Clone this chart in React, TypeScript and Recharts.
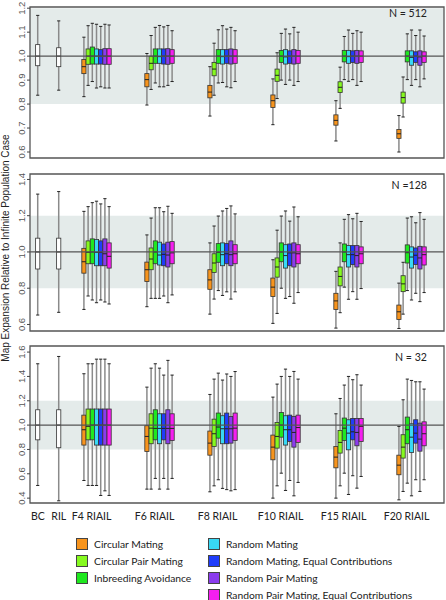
import React from "react";
import { Bar, ComposedChart, ReferenceArea, ReferenceLine, XAxis, YAxis } from "recharts";

// box stats are [min, q1, median, q3, max]
const groups = ["F4 RIAIL", "F6 RIAIL", "F8 RIAIL", "F10 RIAIL", "F15 RIAIL", "F20 RIAIL"];
const controlLabels = ["BC", "RIL"];
const seriesNames = [
  "Circular Mating",
  "Circular Pair Mating",
  "Inbreeding Avoidance",
  "Random Mating",
  "Random Mating, Equal Contributions",
  "Random Pair Mating",
  "Random Pair Mating, Equal Contributions",
];
const seriesColors = ["#f7941d", "#86f91f", "#1fe81f", "#38d9f5", "#1f3dfa", "#8b3ced", "#f51ff0"];

// N = 512
const controls512 = [[0.837, 0.96, 1.0, 1.048, 1.17], [0.858, 0.956, 1.0, 1.035, 1.147]];
const circular512 = [[0.831, 0.927, 0.956, 0.986, 1.079], [0.796, 0.872, 0.902, 0.927, 1.011], [0.75, 0.826, 0.85, 0.878, 0.956], [0.714, 0.786, 0.814, 0.838, 0.905], [0.646, 0.712, 0.732, 0.755, 0.814], [0.6, 0.657, 0.676, 0.694, 0.752]];
const circularPair512 = [[0.878, 0.966, 1.0, 1.03, 1.127], [0.861, 0.943, 0.97, 1.0, 1.086], [0.837, 0.918, 0.946, 0.974, 1.054], [0.823, 0.895, 0.92, 0.946, 1.014], [0.782, 0.848, 0.87, 0.893, 0.954], [0.746, 0.804, 0.827, 0.85, 0.913]];
const inbreeding512 = [[0.894, 0.967, 1.0, 1.038, 1.137], [0.888, 0.97, 1.0, 1.03, 1.12], [0.888, 0.97, 1.0, 1.027, 1.11], [0.9, 0.974, 1.0, 1.024, 1.095], [0.902, 0.976, 1.0, 1.024, 1.082], [0.902, 0.976, 1.0, 1.022, 1.093]];
const random512 = [[0.867, 0.967, 1.0, 1.03, 1.133], [0.872, 0.97, 0.998, 1.03, 1.128], [0.89, 0.967, 0.998, 1.027, 1.127], [0.882, 0.967, 0.997, 1.027, 1.113], [0.895, 0.97, 0.998, 1.024, 1.109], [0.878, 0.962, 0.995, 1.022, 1.109]];
const randomEq512 = [[0.872, 0.967, 1.0, 1.027, 1.124], [0.872, 0.967, 1.0, 1.03, 1.122], [0.872, 0.97, 1.0, 1.027, 1.113], [0.9, 0.97, 1.0, 1.022, 1.093], [0.902, 0.974, 1.0, 1.022, 1.095], [0.902, 0.974, 1.0, 1.018, 1.086]];
const randomPair512 = [[0.867, 0.966, 1.0, 1.031, 1.133], [0.878, 0.966, 1.0, 1.031, 1.128], [0.868, 0.967, 1.0, 1.03, 1.12], [0.878, 0.967, 1.0, 1.027, 1.12], [0.878, 0.97, 1.0, 1.024, 1.106], [0.872, 0.962, 0.997, 1.022, 1.109]];
const randomPairEq512 = [[0.867, 0.966, 1.0, 1.031, 1.13], [0.894, 0.97, 1.0, 1.027, 1.106], [0.894, 0.97, 1.0, 1.027, 1.106], [0.894, 0.97, 1.0, 1.024, 1.1], [0.894, 0.974, 1.0, 1.022, 1.1], [0.905, 0.974, 1.0, 1.018, 1.084]];

// N = 128
const controls128 = [[0.652, 0.906, 1.0, 1.076, 1.319], [0.667, 0.906, 1.0, 1.076, 1.333]];
const circular128 = [[0.683, 0.883, 0.946, 1.02, 1.224], [0.698, 0.837, 0.902, 0.944, 1.094], [0.657, 0.794, 0.846, 0.902, 1.05], [0.606, 0.754, 0.806, 0.856, 0.957], [0.58, 0.683, 0.73, 0.772, 0.893], [0.578, 0.628, 0.67, 0.707, 0.828]];
const circularPair128 = [[0.757, 0.935, 0.998, 1.061, 1.25], [0.744, 0.902, 0.961, 1.022, 1.187], [0.74, 0.887, 0.939, 0.99, 1.143], [0.661, 0.861, 0.917, 0.967, 1.12], [0.665, 0.813, 0.865, 0.917, 1.05], [0.657, 0.781, 0.824, 0.869, 0.943]];
const inbreeding128 = [[0.735, 0.935, 1.0, 1.072, 1.272], [0.744, 0.935, 1.0, 1.061, 1.244], [0.787, 0.943, 0.998, 1.046, 1.198], [0.8, 0.946, 1.0, 1.05, 1.198], [0.806, 0.946, 1.0, 1.044, 1.18], [0.787, 0.939, 0.996, 1.039, 1.187]];
const random128 = [[0.72, 0.924, 0.998, 1.069, 1.28], [0.744, 0.928, 0.983, 1.054, 1.244], [0.76, 0.924, 0.985, 1.05, 1.226], [0.744, 0.911, 0.98, 1.04, 1.226], [0.739, 0.917, 0.985, 1.035, 1.206], [0.735, 0.911, 0.972, 1.028, 1.194]];
const randomEq128 = [[0.735, 0.924, 0.998, 1.061, 1.265], [0.757, 0.924, 0.987, 1.044, 1.222], [0.78, 0.935, 0.99, 1.046, 1.24], [0.754, 0.924, 0.995, 1.044, 1.17], [0.781, 0.93, 0.985, 1.035, 1.183], [0.772, 0.931, 0.982, 1.022, 1.161]];
const randomPair128 = [[0.724, 0.924, 0.99, 1.072, 1.294], [0.72, 0.917, 0.983, 1.054, 1.252], [0.74, 0.924, 0.985, 1.061, 1.254], [0.717, 0.917, 0.995, 1.05, 1.248], [0.739, 0.917, 0.98, 1.035, 1.213], [0.726, 0.906, 0.967, 1.031, 1.217]];
const randomPairEq128 = [[0.713, 0.911, 0.976, 1.05, 1.25], [0.763, 0.935, 0.995, 1.057, 1.213], [0.78, 0.935, 0.99, 1.04, 1.21], [0.776, 0.935, 0.99, 1.04, 1.194], [0.798, 0.935, 0.99, 1.028, 1.168], [0.776, 0.928, 0.985, 1.028, 1.18]];

// N = 32
const controls32 = [[0.504, 0.879, 1.0, 1.126, 1.504], [0.378, 0.814, 1.0, 1.126, 1.564]];
const circular32 = [[0.545, 0.836, 0.962, 1.082, 1.422], [0.474, 0.784, 0.907, 0.995, 1.312], [0.452, 0.753, 0.852, 0.951, 1.252], [0.4, 0.715, 0.819, 0.918, 1.23], [0.4, 0.649, 0.737, 0.825, 1.093], [0.386, 0.592, 0.671, 0.753, 0.989]];
const circularPair32 = [[0.504, 0.879, 0.99, 1.132, 1.504], [0.474, 0.847, 0.975, 1.093, 1.468], [0.501, 0.825, 0.929, 1.049, 1.378], [0.501, 0.811, 0.907, 1.022, 1.337], [0.501, 0.77, 0.858, 0.956, 1.219], [0.455, 0.729, 0.819, 0.921, 1.208]];
const inbreeding32 = [[0.504, 0.879, 1.0, 1.132, 1.504], [0.562, 0.879, 0.973, 1.126, 1.504], [0.551, 0.893, 0.984, 1.099, 1.427], [0.605, 0.901, 1.0, 1.104, 1.4], [0.605, 0.874, 0.975, 1.058, 1.329], [0.523, 0.847, 0.962, 1.066, 1.378]];
const random32 = [[0.504, 0.836, 1.0, 1.132, 1.542], [0.474, 0.847, 0.973, 1.093, 1.468], [0.48, 0.847, 0.97, 1.077, 1.37], [0.463, 0.836, 0.962, 1.077, 1.46], [0.43, 0.797, 0.934, 1.044, 1.4], [0.419, 0.775, 0.901, 1.011, 1.367]];
const randomEq32 = [[0.422, 0.836, 1.0, 1.132, 1.542], [0.562, 0.879, 0.973, 1.093, 1.411], [0.47, 0.847, 0.97, 1.099, 1.42], [0.545, 0.866, 0.962, 1.082, 1.4], [0.584, 0.879, 0.945, 1.055, 1.373], [0.551, 0.852, 0.934, 1.044, 1.356]];
const randomPair32 = [[0.46, 0.836, 1.0, 1.132, 1.542], [0.474, 0.847, 0.973, 1.126, 1.532], [0.46, 0.852, 0.97, 1.071, 1.4], [0.419, 0.819, 0.94, 1.071, 1.441], [0.482, 0.83, 0.94, 1.055, 1.414], [0.455, 0.786, 0.885, 1.016, 1.356]];
const randomPairEq32 = [[0.422, 0.836, 1.0, 1.132, 1.504], [0.562, 0.874, 0.973, 1.093, 1.411], [0.47, 0.874, 0.975, 1.099, 1.44], [0.529, 0.858, 0.98, 1.082, 1.378], [0.578, 0.866, 0.99, 1.055, 1.329], [0.551, 0.83, 0.929, 1.027, 1.296]];

const yTicks512 = [0.6, 0.7, 0.8, 0.9, 1.0, 1.1, 1.2];
const yTicks128 = [0.6, 0.8, 1.0, 1.2, 1.4];
const yTicks32 = [0.4, 0.6, 0.8, 1.0, 1.2, 1.4, 1.6];

// slot layout along x (one slot per box)
const CONTROL_POS = [3, 8];
const FIRST_GROUP = 14;
const GROUP_STEP = 15;
const LABEL_SHIFT = 1.8;
const X_DOMAIN: [number, number] = [1.14, 99.71];

const tickPositions = [...CONTROL_POS, ...groups.map((_, i) => FIRST_GROUP + i * GROUP_STEP + LABEL_SHIFT)];
const tickLabels = [...controlLabels, ...groups];

const FONT = "Lato, 'Open Sans', sans-serif";
const AXIS_FONT = "'Liberation Sans', Arial, sans-serif";

function buildRows(controls: number[][], series: number[][][]) {
  const rows: any[] = [];
  controls.forEach((s, i) => rows.push({ pos: CONTROL_POS[i], range: [s[0], s[4]], stats: s, fill: "#ffffff" }));
  series.forEach((values, si) =>
    values.forEach((s, gi) =>
      rows.push({ pos: FIRST_GROUP + gi * GROUP_STEP + si, range: [s[0], s[4]], stats: s, fill: seriesColors[si] })
    )
  );
  return rows;
}

function BoxShape(props: any) {
  const { x, y, width, height, payload } = props;
  if (!payload || height == null || isNaN(y)) return null;
  const [lo, q1, med, q3, hi] = payload.stats;
  const top = Math.min(y, y + height);
  const h = Math.abs(height);
  const py = (v: number) => top + ((hi - v) / (hi - lo)) * h;
  const cx = x + width / 2;
  const half = 2.1;
  return (
    <g>
      <line x1={cx} x2={cx} y1={top} y2={top + h} stroke="#8a8a8a" strokeWidth={1.5} />
      <line x1={cx - 1.6} x2={cx + 1.6} y1={top} y2={top} stroke="#222" strokeWidth={1} />
      <line x1={cx - 1.6} x2={cx + 1.6} y1={top + h} y2={top + h} stroke="#222" strokeWidth={1} />
      <rect x={cx - half} y={py(q3)} width={half * 2} height={py(q1) - py(q3)} fill={payload.fill} stroke="#333" strokeWidth={0.8} />
      <line x1={cx - half} x2={cx + half} y1={py(med)} y2={py(med)} stroke="#222" strokeWidth={1} />
    </g>
  );
}

function YTick(props: any) {
  const { x, y, payload } = props;
  return (
    <text x={x} y={y} transform={`rotate(-90 ${x} ${y})`} textAnchor="middle" fontSize={9.5} fill="#555" fontFamily={AXIS_FONT}>
      {Number(payload.value).toFixed(1)}
    </text>
  );
}

function XTick(props: any) {
  const { x, y, index } = props;
  return (
    <text x={x} y={y + 17} textAnchor="middle" fontSize={10.5} fill="#222" fontFamily={FONT}>
      {tickLabels[index]}
    </text>
  );
}

const panels = [
  { key: "512", rows: buildRows(controls512, [circular512, circularPair512, inbreeding512, random512, randomEq512, randomPair512, randomPairEq512]), domain: [0.575, 1.205], ticks: yTicks512, top: 0, height: 165, margin: { top: 7, right: 2, bottom: 7, left: 0 }, showX: false },
  { key: "128", rows: buildRows(controls128, [circular128, circularPair128, inbreeding128, random128, randomEq128, randomPair128, randomPairEq128]), domain: [0.564, 1.43], ticks: yTicks128, top: 165, height: 170, margin: { top: 9, right: 2, bottom: 4, left: 0 }, showX: false },
  { key: "32", rows: buildRows(controls32, [circular32, circularPair32, inbreeding32, random32, randomEq32, randomPair32, randomPairEq32]), domain: [0.36, 1.65], ticks: yTicks32, top: 335, height: 195, margin: { top: 11, right: 2, bottom: 0, left: 0 }, showX: true },
];

const nLabels = [
  { text: "N = 512", top: 7 },
  { text: "N =128", top: 179 },
  { text: "N = 32", top: 351 },
];

function Panel({ p }: { p: any }) {
  return (
    <div style={{ position: "absolute", left: 0, top: p.top }}>
      <ComposedChart width={446} height={p.height} data={p.rows} margin={p.margin}>
        <XAxis
          type="number"
          dataKey="pos"
          domain={X_DOMAIN}
          allowDataOverflow
          ticks={tickPositions}
          interval={0}
          hide={!p.showX}
          height={27}
          axisLine={false}
          tickLine={false}
          tickSize={0}
          tickMargin={0}
          tick={<XTick />}
        />
        <YAxis
          type="number"
          domain={p.domain}
          allowDataOverflow
          ticks={p.ticks}
          interval={0}
          width={30}
          axisLine={false}
          tickSize={3}
          tickMargin={2}
          tickLine={{ stroke: "#444" }}
          tick={<YTick />}
        />
        <ReferenceArea x1={X_DOMAIN[0]} x2={X_DOMAIN[1]} y1={0.8} y2={1.2} fill="#e4ebea" fillOpacity={1} stroke="none" ifOverflow="hidden" />
        <ReferenceLine y={1} stroke="#555" strokeWidth={1.3} />
        <Bar dataKey="range" barSize={4} shape={<BoxShape />} isAnimationActive={false} />
        <ReferenceArea x1={X_DOMAIN[0]} x2={X_DOMAIN[1]} y1={p.domain[0]} y2={p.domain[1]} fill="none" stroke="#555" strokeWidth={1.3} />
      </ComposedChart>
    </div>
  );
}

export default function App() {
  const leftLegend = seriesNames.slice(0, 3);
  const rightLegend = seriesNames.slice(3);
  const legendItem = (name: string, color: string, left: number, top: number) => (
    <div key={name} style={{ position: "absolute", left, top, display: "flex", alignItems: "center", height: 14 }}>
      <div style={{ width: 12, height: 12, background: color, border: "1px solid #444", boxSizing: "border-box" }} />
      <span style={{ marginLeft: 6, fontFamily: FONT, fontSize: 10.3, color: "#222", whiteSpace: "nowrap" }}>{name}</span>
    </div>
  );
  return (
    <div style={{ position: "absolute", left: 0, top: 0, width: 446, height: 600, background: "#fff" }}>
      {panels.map((p) => (
        <Panel key={p.key} p={p} />
      ))}
      {nLabels.map((n) => (
        <div key={n.text} style={{ position: "absolute", right: 19, top: n.top, fontFamily: FONT, fontSize: 10.6, color: "#222" }}>
          {n.text}
        </div>
      ))}
      <div
        style={{
          position: "absolute",
          left: 5,
          top: 248,
          transform: "translate(-50%, -50%) rotate(-90deg)",
          fontFamily: AXIS_FONT,
          fontSize: 10,
          color: "#222",
          whiteSpace: "nowrap",
        }}
      >
        Map Expansion Relative to Infinite Population Case
      </div>
      {leftLegend.map((name, i) => legendItem(name, seriesColors[i], 76, 536.5 + i * 17))}
      {rightLegend.map((name, i) => legendItem(name, seriesColors[i + 3], 208, 536.5 + i * 17))}
    </div>
  );
}
